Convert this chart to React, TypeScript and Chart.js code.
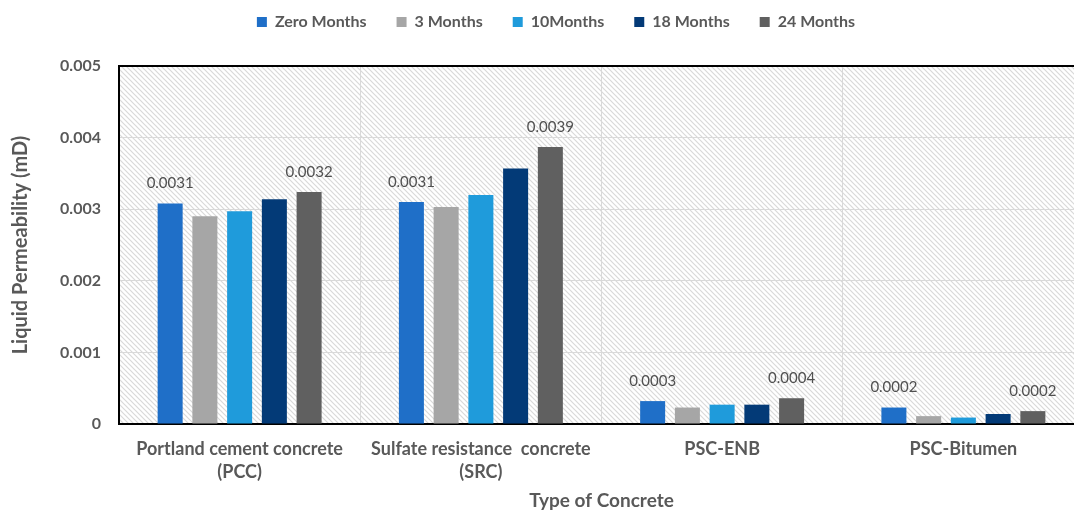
import React, { useEffect, useRef } from "react";
import { Chart, registerables } from "chart.js";

Chart.register(...registerables);

// Categories (x axis) and series values, liquid permeability in mD
const concreteTypes: (string | string[])[] = [
  ["Portland cement concrete", "(PCC)"],
  ["Sulfate resistance  concrete", "(SRC)"],
  "PSC-ENB",
  "PSC-Bitumen",
];
const seriesNames = ["Zero Months", "3 Months", "10Months", "18 Months", "24 Months"];
const zeroMonths = [0.00308, 0.0031, 0.00032, 0.00023];
const threeMonths = [0.0029, 0.00303, 0.00023, 0.00011];
const tenMonths = [0.00297, 0.0032, 0.00027, 0.00009];
const eighteenMonths = [0.00314, 0.00357, 0.00027, 0.00014];
const twentyFourMonths = [0.00324, 0.00387, 0.00036, 0.00018];
const seriesColors = ["#1F6FC8", "#A6A6A6", "#1F9BDB", "#033A77", "#606060"];
const yTicks = [0, 0.001, 0.002, 0.003, 0.004, 0.005];
// series that carry value labels above their bars
const labelledSeries = [0, 4];

const TEXT = "#595959";
const FONT = "Lato, 'Open Sans', sans-serif";

function makeHatch(): CanvasPattern | string {
  const c = document.createElement("canvas");
  const s = 5;
  c.width = s;
  c.height = s;
  const g = c.getContext("2d");
  if (!g) return "#ffffff";
  g.fillStyle = "#ffffff";
  g.fillRect(0, 0, s, s);
  g.strokeStyle = "#d9d9d9";
  g.lineWidth = 1.2;
  g.beginPath();
  g.moveTo(-1, -1);
  g.lineTo(s + 1, s + 1);
  g.moveTo(-1, s - 1);
  g.lineTo(1, s + 1);
  g.moveTo(s - 1, -1);
  g.lineTo(s + 1, 1);
  g.stroke();
  return g.createPattern(c, "repeat") || "#ffffff";
}

export default function App() {
  const ref = useRef<HTMLCanvasElement | null>(null);

  useEffect(() => {
    const canvas = ref.current;
    if (!canvas) return;
    const hatch = makeHatch();

    const plotFrame = {
      id: "plotFrame",
      beforeInit(chart: any) {
        // fixed legend band so the plot starts at the same height
        const legend = chart.legend;
        if (legend) {
          const fit = legend.fit.bind(legend);
          legend.fit = function () {
            fit();
            this.height = 61;
          };
        }
      },
      afterLayout(chart: any) {
        // nudge the legend row: centred over the whole figure, close to the top
        const legend = chart.legend;
        if (legend) {
          legend.left += 14;
          legend.right += 14;
          legend.top -= 21;
          legend.bottom -= 21;
        }
      },
      beforeDraw(chart: any) {
        const { ctx, chartArea: a } = chart;
        ctx.save();
        ctx.fillStyle = hatch;
        ctx.fillRect(a.left, a.top, a.right - a.left, a.bottom - a.top);
        ctx.restore();
      },
      afterDraw(chart: any) {
        const { ctx, chartArea: a } = chart;
        ctx.save();
        ctx.strokeStyle = "#000";
        ctx.lineWidth = 2;
        ctx.beginPath();
        ctx.moveTo(a.left - 1, a.top);
        ctx.lineTo(a.right + 1, a.top);
        ctx.stroke();
        ctx.restore();
      },
      afterDatasetsDraw(chart: any) {
        const { ctx } = chart;
        ctx.save();
        ctx.fillStyle = "#505050";
        ctx.font = `15px ${FONT}`;
        ctx.textAlign = "center";
        ctx.textBaseline = "middle";
        labelledSeries.forEach((di) => {
          const meta = chart.getDatasetMeta(di);
          const data = chart.data.datasets[di].data as number[];
          meta.data.forEach((bar: any, i: number) => {
            ctx.fillText(data[i].toFixed(4), bar.x, bar.y - 20);
          });
        });
        ctx.restore();
      },
    };

    const values = [zeroMonths, threeMonths, tenMonths, eighteenMonths, twentyFourMonths];

    const chart = new Chart(canvas, {
      type: "bar",
      data: {
        labels: concreteTypes,
        datasets: seriesNames.map((name, i) => ({
          label: name,
          data: values[i],
          backgroundColor: seriesColors[i],
          borderWidth: 0,
          categoryPercentage: 0.72,
          barPercentage: 0.72,
        })),
      },
      options: {
        responsive: false,
        animation: false,
        devicePixelRatio: 1,
        layout: { padding: { left: 0, right: 32, top: 5, bottom: 0 } },
        plugins: {
          tooltip: { enabled: false },
          legend: {
            position: "top",
            labels: {
              boxWidth: 10,
              boxHeight: 10,
              padding: 30,
              color: TEXT,
              font: { family: FONT, size: 16, weight: "bold" },
            },
          },
        },
        scales: {
          x: {
            grid: { color: "#d9d9d9", drawTicks: false, offset: true },
            border: { color: "#000", width: 2 },
            ticks: {
              color: TEXT,
              padding: 13,
              maxRotation: 0,
              autoSkip: false,
              font: { family: FONT, size: 18, weight: "bold", lineHeight: 1.3 },
            },
            title: {
              display: true,
              text: "Type of Concrete",
              color: TEXT,
              padding: { top: 0, bottom: 1 },
              font: { family: FONT, size: 19, weight: "bold" },
            },
            afterFit(scale: any) {
              scale.height = 89;
            },
          },
          y: {
            min: 0,
            max: 0.005,
            afterBuildTicks(scale: any) {
              scale.ticks = yTicks.map((v) => ({ value: v }));
            },
            grid: { color: "#d9d9d9", drawTicks: false },
            border: { color: "#000", width: 2 },
            ticks: {
              color: TEXT,
              padding: 18,
              font: { family: FONT, size: 16, weight: "bold" },
              callback: (v: any) => (Number(v) === 0 ? "0" : Number(v).toFixed(3)),
            },
            title: {
              display: true,
              text: "Liquid Permeability (mD)",
              color: TEXT,
              padding: { top: 9, bottom: 0 },
              font: { family: FONT, size: 20, weight: "bold" },
            },
            afterFit(scale: any) {
              scale.width = 119;
            },
          },
        },
      },
      plugins: [plotFrame],
    } as any);

    return () => chart.destroy();
  }, []);

  return (
    <div
      style={{
        position: "fixed",
        left: 0,
        top: 0,
        width: 1074,
        height: 513,
        overflow: "hidden",
        background: "#fff",
      }}
    >
      <canvas ref={ref} width={1116} height={513} style={{ width: 1116, height: 513, display: "block" }} />
    </div>
  );
}
